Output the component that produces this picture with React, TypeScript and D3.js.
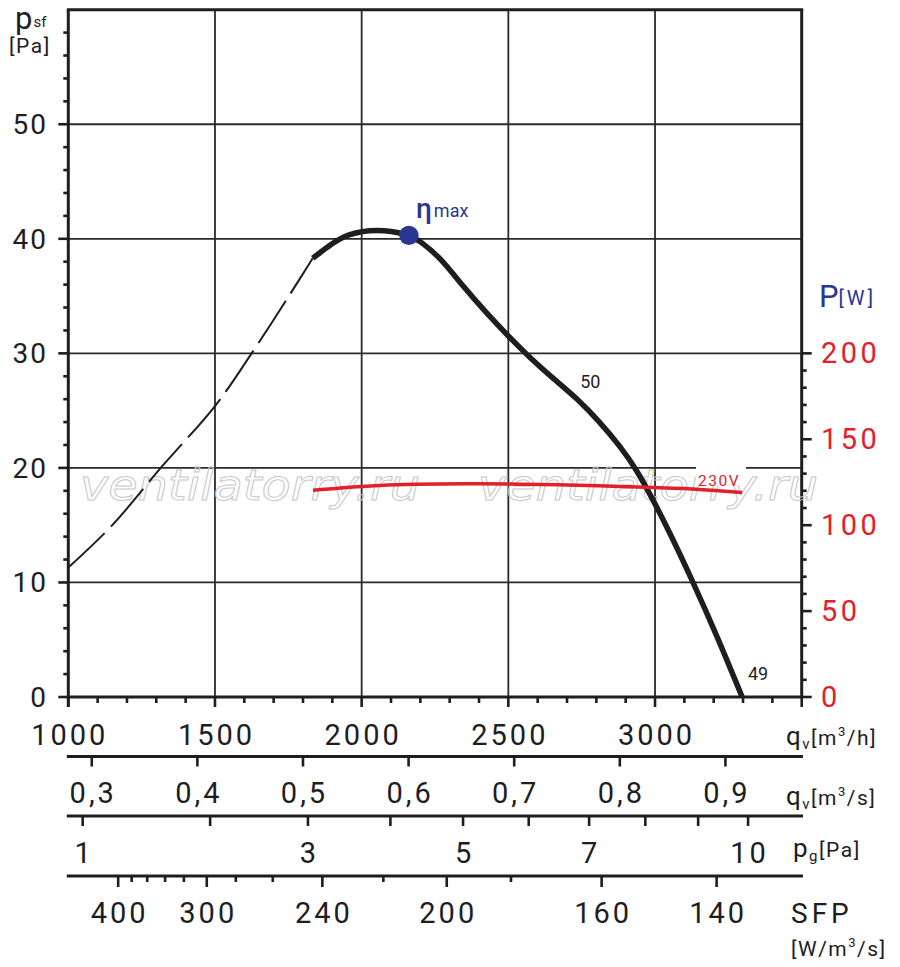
import React from 'react';
import * as d3 from 'd3';

// ---------- data ----------
const qTickLabels = [1000, 1500, 2000, 2500, 3000];
const psfTickLabels = [0, 10, 20, 30, 40, 50];
const powerTickLabels = [0, 50, 100, 150, 200];
const qsTickLabels = [0.3, 0.4, 0.5, 0.6, 0.7, 0.8, 0.9];
const pgTicks = [1, 2, 3, 4, 5, 6, 7, 8, 9, 10];
const pgTickLabels = [1, 3, 5, 7, 10];
const sfpTicks = [400, 380, 360, 340, 320, 300, 280, 260, 240, 220, 200, 180, 160, 140];
const sfpTickFlow = [1170, 1216, 1269, 1330, 1394, 1472, 1571, 1697, 1866, 2074, 2290, 2509, 2818, 3210];
const sfpTickLabels = [400, 300, 240, 200, 160, 140];

// fan curve (outside working range, dashed)
const dashedQ = [1000, 1150, 1315, 1500, 1625, 1789, 1833];
const dashedP = [11.3, 15.0, 20.0, 25.4, 30.0, 36.5, 38.3];
// fan curve (working range, solid)
const solidQ = [1833, 1900, 1948, 2050, 2161, 2199, 2267, 2347, 2426, 2500, 2574, 2653, 2733, 2812, 2881, 2938, 2983, 3040, 3127, 3212, 3297];
const solidP = [38.3, 39.6, 40.4, 40.9, 40.4, 39.8, 38.4, 35.8, 33.5, 31.5, 29.6, 27.8, 26.1, 24.0, 21.9, 19.8, 17.7, 14.9, 10.2, 5.3, 0];
// power input curve, 230 V
const powerQ = [1834, 1999, 2175, 2401, 2600, 2810, 2997, 3153, 3297];
const powerW = [120.3, 122.7, 124.0, 124.2, 123.8, 123.0, 121.8, 121.0, 119.0];
const etaMax = { q: 2161, p: 40.3 };
const pgRefFlow = 1049; // m3/h at p_g = 1 Pa

const FONT = 'Roboto, "DejaVu Sans", sans-serif';
const BLUE = '#2b3592';
const RED = '#e3202a';
const INK = '#1e1e1e';

export default function App() {
  const L = 68.3, R = 801.7, T = 9.7, B = 697;
  const x = d3.scaleLinear().domain([1000, 3500]).range([L, R]);
  const y = d3.scaleLinear().domain([0, 60]).range([B, T]);
  const yP = d3.scaleLinear().domain([0, 400]).range([B, T]);
  const pgToQ = d3.scaleSqrt().domain([0, 1]).range([0, pgRefFlow]);

  const line = d3
    .line<[number, number]>()
    .x((d) => x(d[0]))
    .y((d) => y(d[1]))
    .curve(d3.curveCatmullRom.alpha(0.5));
  const smooth = d3
    .line<[number, number]>()
    .x((d) => x(d[0]))
    .y((d) => y(d[1]))
    .curve(d3.curveBasis);
  const lineP = d3
    .line<[number, number]>()
    .x((d) => x(d[0]))
    .y((d) => yP(d[1]))
    .curve(d3.curveBasis);

  const dashedPath = line(dashedQ.map((q, i) => [q, dashedP[i]] as [number, number])) || '';
  const solidPath = smooth(solidQ.map((q, i) => [q, solidP[i]] as [number, number])) || '';
  const powerPath = lineP(powerQ.map((q, i) => [q, powerW[i]] as [number, number])) || '';

  const minorQ = d3.range(1000, 3501, 100);
  const minorPsf = d3.range(0, 59, 2);
  const minorPow = d3.range(0, 201, 10);

  const axY1 = 756.5, axY2 = 816, axY3 = 876;
  const ls = 3;

  return (
    <svg
      width={900}
      height={967}
      viewBox="0 0 900 967"
      style={{ position: 'absolute', left: 0, top: 0, display: 'block', background: '#fff' }}
      fontFamily={FONT}
    >
      <rect x={0} y={0} width={900} height={967} fill="#fff" />

      {/* grid */}
      {[10, 20, 30, 40, 50].map((v) => (
        <line key={'gh' + v} x1={L} x2={R} y1={y(v)} y2={y(v)} stroke="#2a2a2a" strokeWidth={1.8} />
      ))}
      {[1500, 2000, 2500, 3000].map((v) => (
        <line key={'gv' + v} x1={x(v)} x2={x(v)} y1={T} y2={B} stroke="#2a2a2a" strokeWidth={1.8} />
      ))}

      {/* frame */}
      <line x1={L - 1.5} x2={R + 1.5} y1={T} y2={T} stroke={INK} strokeWidth={3} />
      <line x1={R} x2={R} y1={T} y2={B} stroke={INK} strokeWidth={3} />
      <line x1={L} x2={L} y1={T} y2={B + 10} stroke={INK} strokeWidth={3} />
      <line x1={L - 1.5} x2={R + 1.5} y1={B} y2={B} stroke={INK} strokeWidth={3} />

      {/* left axis ticks */}
      {minorPsf.map((v) => (
        <line
          key={'lt' + v}
          x1={v % 10 === 0 ? L - 10 : L - 5}
          x2={L}
          y1={y(v)}
          y2={y(v)}
          stroke={INK}
          strokeWidth={2.6}
        />
      ))}
      {psfTickLabels.map((v) => (
        <text key={'ll' + v} x={46 + 2} y={y(v) + 10} fontSize={28} textAnchor="end" fill={INK} letterSpacing={2}>
          {v}
        </text>
      ))}

      {/* right axis ticks */}
      {minorPow.map((v) => (
        <line
          key={'rt' + v}
          x1={R}
          x2={v % 50 === 0 ? R + 10 : R + 5}
          y1={yP(v)}
          y2={yP(v)}
          stroke={INK}
          strokeWidth={2.6}
        />
      ))}
      {powerTickLabels.map((v) => (
        <text key={'rl' + v} x={821} y={yP(v) + 10} fontSize={29} fill={RED} letterSpacing={3.5}>
          {v}
        </text>
      ))}

      {/* bottom q axis ticks */}
      {minorQ.map((v) => (
        <line
          key={'bt' + v}
          x1={x(v)}
          x2={x(v)}
          y1={B}
          y2={v % 500 === 0 ? B + 10 : B + 6}
          stroke={INK}
          strokeWidth={2.6}
        />
      ))}
      {qTickLabels.map((v) => (
        <text key={'bl' + v} x={x(v) + ls / 2} y={745} fontSize={29} textAnchor="middle" fill={INK} letterSpacing={ls}>
          {v}
        </text>
      ))}

      {/* watermark */}
      {[80, 478].map((wx) => (
        <text
          key={'wm' + wx}
          x={wx}
          y={500}
          fontSize={42}
          fontStyle="italic"
          fontFamily='"DejaVu Sans", sans-serif'
          fill="none"
          stroke="#c9c9c9"
          strokeWidth={1}
          textLength={340}
          lengthAdjust="spacingAndGlyphs"
        >
          ventilatorry.ru
        </text>
      ))}

      {/* curves */}
      <path d={dashedPath} fill="none" stroke={INK} strokeWidth={2} strokeDasharray="50 9" />
      <path d={solidPath} fill="none" stroke={INK} strokeWidth={5.5} strokeLinecap="butt" />
      <path d={powerPath} fill="none" stroke={RED} strokeWidth={3.5} />

      {/* 230V label */}
      <rect x={696} y={465} width={50} height={20} fill="#fff" />
      <text x={698} y={486} fontSize={15.5} fill={RED} letterSpacing={1.5}>
        230V
      </text>

      {/* eta max */}
      <circle cx={x(etaMax.q)} cy={y(etaMax.p)} r={9.7} fill={BLUE} />
      <text x={416} y={218} fill={BLUE}>
        <tspan fontSize={28} fontWeight={500}>η</tspan>
        <tspan fontSize={18} dx={2} dy={-1}>max</tspan>
      </text>

      {/* curve labels */}
      <text x={x(2745)} y={y(27.0)} fontSize={18} fill={INK}>50</text>
      <text x={x(3317)} y={y(1.5)} fontSize={18} fill={INK}>49</text>

      {/* axis titles */}
      <text x={15} y={29} fill={INK}>
        <tspan fontSize={31}>p</tspan>
        <tspan fontSize={15} dx={1} dy={-2}>sf</tspan>
      </text>
      <text x={9} y={53} fontSize={21} fill={INK} letterSpacing={1.5}>[Pa]</text>

      <text x={819} y={307} fill={BLUE}>
        <tspan fontSize={31}>P</tspan>
        <tspan fontSize={20} dy={-2} letterSpacing={3}>[W]</tspan>
      </text>

      {/* q m3/h title */}
      <text x={786} y={745} fill={INK} letterSpacing={1.5}>
        <tspan fontSize={26}>q</tspan>
        <tspan fontSize={15} dy={4}>v</tspan>
        <tspan fontSize={21} dy={-4}>[m</tspan>
        <tspan fontSize={13} dy={-9}>3</tspan>
        <tspan fontSize={21} dy={9}>/h]</tspan>
      </text>

      {/* q m3/s axis */}
      <line x1={L - 1.5} x2={803} y1={axY1} y2={axY1} stroke={INK} strokeWidth={3} />
      {qsTickLabels.map((v) => (
        <g key={'qs' + v}>
          <line x1={x(v * 3600)} x2={x(v * 3600)} y1={axY1} y2={axY1 + 10} stroke={INK} strokeWidth={2.6} />
          <text x={x(v * 3600) + ls / 2} y={803} fontSize={29} textAnchor="middle" fill={INK} letterSpacing={ls}>
            {d3.format('.1f')(v).replace('.', ',')}
          </text>
        </g>
      ))}
      <text x={786} y={805} fill={INK} letterSpacing={1.5}>
        <tspan fontSize={26}>q</tspan>
        <tspan fontSize={15} dy={4}>v</tspan>
        <tspan fontSize={21} dy={-4}>[m</tspan>
        <tspan fontSize={13} dy={-9}>3</tspan>
        <tspan fontSize={21} dy={9}>/s]</tspan>
      </text>

      {/* p_g axis */}
      <line x1={L - 1.5} x2={803} y1={axY2} y2={axY2} stroke={INK} strokeWidth={3} />
      {pgTicks.map((v) => (
        <line
          key={'pg' + v}
          x1={x(pgToQ(v))}
          x2={x(pgToQ(v))}
          y1={axY2}
          y2={axY2 + 10}
          stroke={INK}
          strokeWidth={2.6}
        />
      ))}
      {pgTickLabels.map((v) => (
        <text key={'pgl' + v} x={x(pgToQ(v)) + ls / 2} y={863} fontSize={29} textAnchor="middle" fill={INK} letterSpacing={ls}>
          {v}
        </text>
      ))}
      <text x={793} y={857} fill={INK} letterSpacing={1.5}>
        <tspan fontSize={26}>p</tspan>
        <tspan fontSize={15} dy={4}>g</tspan>
        <tspan fontSize={21} dy={-4}>[Pa]</tspan>
      </text>

      {/* SFP axis */}
      <line x1={L - 1.5} x2={803} y1={axY3} y2={axY3} stroke={INK} strokeWidth={3} />
      {sfpTicks.map((v, i) => (
        <line
          key={'sf' + v}
          x1={x(sfpTickFlow[i])}
          x2={x(sfpTickFlow[i])}
          y1={axY3}
          y2={sfpTickLabels.includes(v) ? axY3 + 11 : axY3 + 6}
          stroke={INK}
          strokeWidth={2.6}
        />
      ))}
      {sfpTicks.map((v, i) =>
        sfpTickLabels.includes(v) ? (
          <text
            key={'sfl' + v}
            x={x(sfpTickFlow[i]) + ls / 2}
            y={923}
            fontSize={29}
            textAnchor="middle"
            fill={INK}
            letterSpacing={ls}
          >
            {v}
          </text>
        ) : null
      )}
      <text x={791} y={923} fontSize={28} fill={INK} letterSpacing={4}>SFP</text>
      <text x={791} y={956} fill={INK} letterSpacing={1.5}>
        <tspan fontSize={21}>[W/m</tspan>
        <tspan fontSize={13} dy={-9}>3</tspan>
        <tspan fontSize={21} dy={9}>/s]</tspan>
      </text>
    </svg>
  );
}
